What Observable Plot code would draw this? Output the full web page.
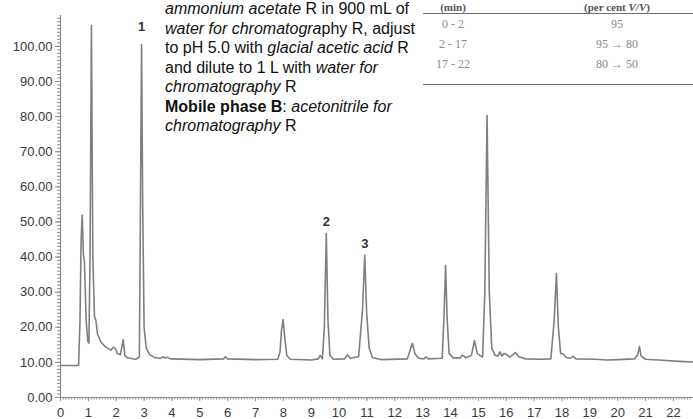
<!DOCTYPE html>
<html>
<head>
<meta charset="utf-8">
<script src="https://cdn.jsdelivr.net/npm/d3@7"></script>
<script src="https://cdn.jsdelivr.net/npm/@observablehq/plot@0.6"></script>
<style>
  html, body { margin: 0; padding: 0; background: #fff; }
  #wrap { position: relative; width: 693px; height: 419px; overflow: hidden; }
  #chart { position: absolute; left: 0; top: 0; }
  .note { position: absolute; left: 165px; top: -1px; font-family: "Liberation Sans", Arial, sans-serif;
          font-size: 16px; line-height: 19.5px; color: #111; white-space: nowrap; }
  .tbl { position: absolute; font-family: "Liberation Serif", "Times New Roman", serif; font-size: 12px;
         color: #8a8a8a; white-space: nowrap; transform: translate(-50%, -50%); line-height: 12px; }
  .tbl.h { color: #555; font-weight: bold; font-size: 11px; line-height: 11px; }
  .rule { position: absolute; left: 423px; width: 270px; height: 0; border-top: 1.3px solid #6f6f6f; }
</style>
</head>
<body>
<div id="wrap"><div id="chart"></div></div>
<script>
// Chromatogram trace: retention time (min) and response
const times = [0, 0.65, 0.70, 0.74, 0.78, 0.82, 0.86, 0.92, 0.98, 1.02, 1.06, 1.11, 1.16, 1.22, 1.27, 1.33, 1.45, 1.6, 1.8, 1.9, 1.97, 2.04, 2.15, 2.25, 2.31, 2.4, 2.7, 2.83, 2.87, 2.91, 2.95, 3.0, 3.08, 3.2, 3.4, 3.6, 3.68, 3.75, 3.82, 3.95, 5.0, 5.85, 5.92, 6.0, 7.0, 7.8, 7.88, 7.93, 7.99, 8.05, 8.12, 8.25, 9.0, 9.25, 9.32, 9.4, 9.47, 9.54, 9.6, 9.67, 9.8, 10.2, 10.3, 10.4, 10.7, 10.84, 10.92, 10.99, 11.08, 11.2, 11.5, 12.45, 12.57, 12.63, 12.72, 12.85, 13.05, 13.12, 13.2, 13.7, 13.77, 13.82, 13.88, 13.95, 14.1, 14.35, 14.43, 14.55, 14.75, 14.86, 14.96, 15.15, 15.23, 15.31, 15.39, 15.48, 15.6, 15.7, 15.77, 15.84, 15.92, 16.0, 16.12, 16.25, 16.33, 16.45, 16.7, 17.2, 17.6, 17.72, 17.8, 17.87, 17.95, 18.05, 18.15, 18.3, 18.4, 18.5, 19.2, 19.6, 20.0, 20.6, 20.72, 20.78, 20.84, 21.0, 21.6, 22.2, 22.72];
const signal = [9.1, 9.1, 22, 45, 52, 41, 38.5, 22, 16, 15.5, 40, 106, 40, 23, 22, 18, 15.8, 14.5, 13.5, 14.3, 14.0, 12.5, 12.2, 16.5, 12.0, 11.3, 10.9, 11.5, 55, 100.5, 55, 20, 14, 12.2, 11.3, 11.2, 11.6, 11.2, 11.5, 11.0, 10.8, 11.0, 11.6, 11.0, 10.8, 10.9, 13, 19, 22.2, 17, 12, 10.9, 10.7, 11.0, 12.0, 11.0, 20, 46.7, 22, 12, 10.9, 11.0, 12.2, 11.2, 11.6, 25, 40.5, 24, 14, 11.3, 10.8, 11.0, 14.0, 15.4, 12.5, 11.2, 11.0, 11.6, 11.0, 11.2, 24, 37.6, 22, 12.5, 11.3, 11.3, 12.1, 11.3, 12.0, 16.2, 12.5, 11.5, 30, 80.3, 30, 14, 12, 11.8, 13, 11.8, 12.5, 12.3, 11.5, 12.2, 12.8, 11.6, 11.0, 10.9, 11.0, 22, 35.3, 20, 12.6, 12.3, 11.4, 11.2, 11.7, 11.0, 10.9, 10.7, 10.8, 11.0, 12.2, 14.5, 11.8, 10.9, 10.6, 10.3, 10.1];

// Peak labels
const peakNames = ["1", "2", "3"];
const peakTimes = [2.91, 9.54, 10.92];
const peakLabelLevels = [105.7, 49.9, 43.9];

// Axis ticks
const xMajorTicks = d3.range(0, 23, 1);
const xMinorTicks = d3.range(0, 227, 1).map(i => i / 10);
const yMajorTicks = d3.range(0, 101, 10);
const yMinorTicks = d3.range(0, 109, 1);

// Gradient table (text)
const tableHeader = ["(min)", "(per cent <i>V/V</i>)"];
const tableTime = ["0 - 2", "2 - 17", "17 - 22"];
const tableMobileA = ["95", "95 → 80", "80 → 50"];

// Overlay note text lines
const noteLines = [
  "<i>ammonium acetate</i> R in 900 mL of",
  "<i>water for chromatogra</i>phy R, adjust",
  "to pH 5.0 with <i>glacial acetic acid</i> R",
  "and dilute to 1 L with <i>water for</i>",
  "<i>chromatography</i> R",
  "<b>Mobile phase B</b>: <i>acetonitrile for</i>",
  "<i>chromatography</i> R"
];

const trace = times.map((t, i) => ({t, v: signal[i]}));
const peaks = peakNames.map((n, i) => ({name: n, t: peakTimes[i], v: peakLabelLevels[i]}));

const axisColor = "#8c8c8c";
const chart = Plot.plot({
  width: 693,
  height: 419,
  marginLeft: 60,
  marginRight: 0,
  marginTop: 15,
  marginBottom: 22,
  style: {fontFamily: "'Liberation Sans', Arial, sans-serif", fontSize: "13px", background: "white", overflow: "visible"},
  x: {domain: [0, 22.72]},
  y: {domain: [0, 108.8]},
  marks: [
    Plot.axisY({ticks: yMinorTicks, tickSize: 3, text: null, stroke: axisColor, label: null}),
    Plot.axisY({ticks: yMajorTicks, tickSize: 5, tickPadding: 3, tickFormat: d => d.toFixed(2), stroke: axisColor, fill: "#3a3a3a", label: null}),
    Plot.axisX({ticks: xMinorTicks, tickSize: 2.5, text: null, stroke: axisColor, label: null}),
    Plot.axisX({ticks: xMajorTicks, tickSize: 4, tickPadding: 6, tickFormat: d => String(d), stroke: axisColor, fill: "#3a3a3a", label: null}),
    Plot.ruleX([0], {y1: 0, y2: 108.8, stroke: axisColor, strokeWidth: 1.2}),
    Plot.ruleY([0], {x1: 0, x2: 22.72, stroke: axisColor, strokeWidth: 1.2}),
    Plot.line(trace, {x: "t", y: "v", stroke: "#7f7f7f", strokeWidth: 1.6}),
    Plot.text(peaks, {x: "t", y: "v", text: "name", fill: "#333", fontSize: 13, fontWeight: "bold"})
  ]
});
const wrap = document.getElementById("wrap");
document.getElementById("chart").appendChild(chart);

// note block
const note = document.createElement("div");
note.className = "note";
note.innerHTML = noteLines.join("<br>");
wrap.appendChild(note);

// table
function cell(html, x, y, cls) {
  const d = document.createElement("div");
  d.className = "tbl" + (cls ? " " + cls : "");
  d.innerHTML = html;
  d.style.left = x + "px";
  d.style.top = y + "px";
  wrap.appendChild(d);
}
const colX = [453, 617];
cell(tableHeader[0], colX[0], 6.5, "h");
cell(tableHeader[1], colX[1], 6.5, "h");
const rowY = [24, 44, 64];
tableTime.forEach((s, i) => { cell(s, colX[0], rowY[i]); cell(tableMobileA[i], colX[1], rowY[i]); });
[13, 84].forEach(y => {
  const r = document.createElement("div");
  r.className = "rule";
  r.style.top = y + "px";
  wrap.appendChild(r);
});
</script>
</body>
</html>
